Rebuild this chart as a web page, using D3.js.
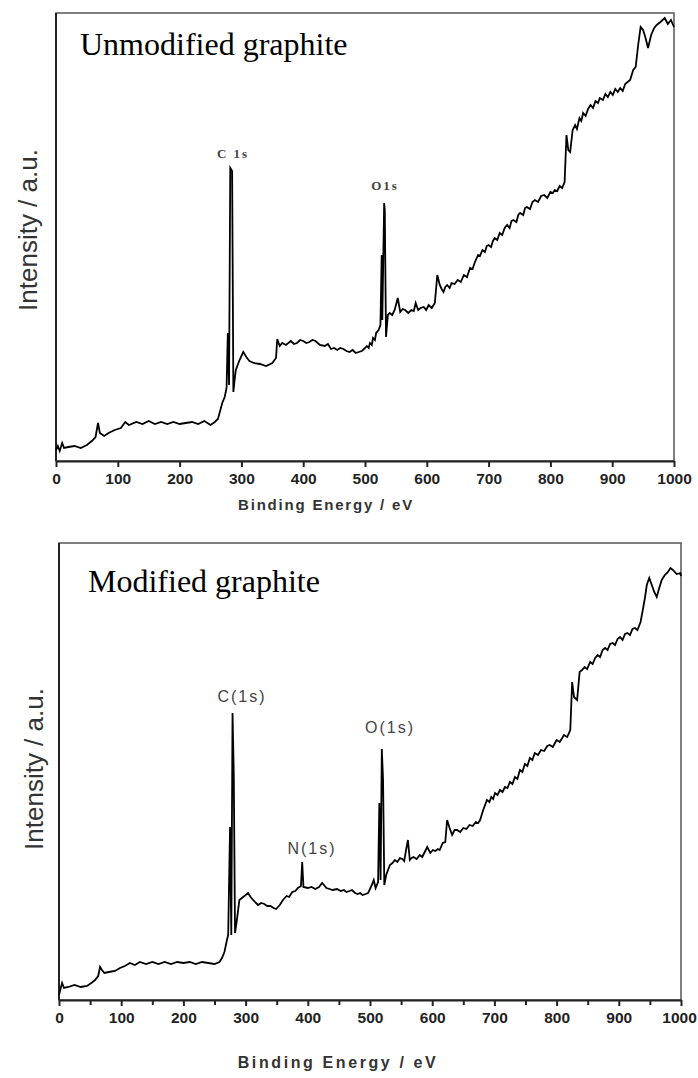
<!DOCTYPE html>
<html>
<head>
<meta charset="utf-8">
<script src="https://cdn.jsdelivr.net/npm/d3@7"></script>
<style>
  body { margin: 0; background: #fff; }
  svg { display: block; }
</style>
</head>
<body>
<div id="chart"></div>
<script>
// XPS survey spectra: [binding energy (eV), intensity (a.u.)]
const unmodifiedSpectrum = [
  [0, 11], [3, 15], [6, 10], [10, 18], [13, 13], [20, 14], [30, 15], [40, 13], [50, 16],
  [58, 20], [64, 24], [68, 38], [71, 28], [78, 25], [85, 28], [95, 31], [105, 33], [112, 39],
  [118, 36], [130, 39], [140, 37], [150, 40], [160, 37], [170, 39], [180, 37], [190, 39],
  [200, 37], [210, 38], [220, 39], [230, 37], [240, 40], [250, 36], [257, 39], [262, 42],
  [266, 51], [269, 58], [273, 64], [276, 73], [278, 128], [280, 76], [282, 293], [285, 290],
  [287, 69], [289, 81], [291, 91], [297, 101], [303, 109], [308, 104], [313, 100], [320, 98],
  [330, 97], [340, 95], [350, 98], [356, 103], [358, 122], [362, 115], [366, 118], [372, 116],
  [380, 120], [385, 117], [390, 118], [395, 121], [400, 120], [405, 118], [410, 119], [415, 121],
  [420, 120], [427, 116], [435, 115], [440, 117], [445, 112], [450, 113], [455, 111], [460, 113],
  [465, 112], [470, 110], [475, 109], [480, 111], [485, 108], [490, 109], [495, 110], [500, 113],
  [503, 115], [506, 113], [508, 118], [511, 116], [513, 123], [516, 121], [518, 128], [522, 131],
  [525, 136], [527, 206], [528, 141], [531, 258], [532, 251], [534, 124], [537, 146], [540, 148],
  [544, 146], [548, 151], [553, 163], [557, 149], [561, 152], [565, 151], [570, 148], [575, 151],
  [579, 150], [582, 158], [586, 151], [590, 153], [595, 154], [599, 151], [603, 156], [608, 153],
  [613, 158], [617, 186], [621, 176], [624, 172], [627, 169], [630, 174], [633, 176], [637, 173],
  [640, 178], [645, 177], [650, 181], [655, 179], [660, 186], [665, 184], [670, 193], [674, 192],
  [678, 199], [683, 206], [686, 205], [690, 211], [694, 209], [697, 215], [700, 216], [704, 214],
  [707, 220], [710, 223], [714, 221], [718, 228], [722, 226], [726, 233], [730, 236], [734, 233],
  [737, 240], [740, 241], [745, 239], [748, 246], [751, 248], [756, 246], [759, 253], [762, 254],
  [767, 252], [771, 259], [775, 261], [780, 259], [785, 265], [790, 266], [795, 263], [800, 269],
  [804, 268], [807, 271], [811, 270], [815, 275], [819, 273], [823, 279], [826, 326], [829, 311],
  [832, 309], [836, 331], [840, 336], [843, 332], [847, 343], [850, 340], [853, 348], [857, 345],
  [861, 352], [865, 356], [869, 353], [873, 360], [877, 358], [880, 363], [885, 361], [889, 367],
  [893, 364], [897, 369], [901, 366], [905, 372], [909, 369], [913, 373], [917, 370], [921, 377],
  [925, 379], [929, 381], [934, 391], [938, 394], [942, 416], [946, 434], [950, 431], [954, 423],
  [958, 413], [963, 426], [968, 433], [972, 436], [978, 439], [985, 443], [990, 437], [995, 441],
  [1000, 434]
];

const modifiedSpectrum = [
  [0, 5], [2, 10], [5, 17], [8, 12], [15, 13], [25, 15], [35, 13], [45, 14], [52, 17], [58, 20],
  [63, 24], [66, 33], [69, 30], [73, 27], [80, 28], [90, 29], [98, 32], [106, 34], [114, 37],
  [122, 35], [130, 38], [140, 36], [150, 38], [160, 36], [170, 38], [180, 36], [190, 38],
  [200, 37], [210, 38], [220, 36], [230, 38], [240, 37], [250, 36], [258, 38], [262, 42],
  [266, 48], [270, 60], [272, 65], [275, 173], [277, 65], [279, 287], [281, 225], [283, 67],
  [286, 80], [290, 100], [296, 103], [304, 107], [308, 103], [312, 100], [320, 95], [325, 97],
  [330, 96], [335, 94], [340, 94], [345, 92], [349, 91], [355, 95], [360, 100], [366, 104],
  [370, 103], [375, 108], [380, 109], [384, 112], [389, 114], [391, 138], [393, 113], [400, 112],
  [406, 113], [412, 111], [418, 113], [423, 117], [430, 112], [435, 111], [440, 110], [447, 111],
  [453, 109], [458, 110], [462, 108], [467, 109], [471, 110], [476, 107], [480, 106], [484, 107],
  [488, 105], [493, 106], [497, 107], [503, 115], [506, 120], [509, 112], [513, 118], [515, 197],
  [517, 120], [519, 251], [521, 220], [523, 115], [526, 125], [532, 135], [536, 137], [540, 140],
  [544, 138], [548, 142], [552, 141], [555, 139], [558, 150], [561, 160], [564, 140], [567, 142],
  [570, 143], [575, 141], [580, 145], [584, 143], [588, 148], [592, 153], [597, 147], [601, 150],
  [605, 149], [609, 151], [612, 150], [617, 157], [621, 158], [624, 180], [628, 172], [632, 165],
  [636, 170], [640, 170], [645, 168], [650, 172], [655, 171], [660, 175], [665, 174], [670, 178],
  [674, 177], [677, 180], [682, 190], [688, 200], [692, 198], [695, 203], [698, 201], [701, 207],
  [705, 205], [709, 210], [713, 208], [717, 213], [721, 212], [725, 218], [729, 216], [733, 223],
  [737, 221], [741, 230], [745, 228], [749, 236], [753, 234], [757, 242], [761, 240], [765, 247],
  [770, 245], [775, 250], [780, 249], [785, 254], [789, 255], [794, 253], [800, 260], [805, 258],
  [812, 265], [817, 263], [822, 270], [825, 318], [828, 303], [833, 300], [837, 328], [841, 330],
  [845, 333], [849, 331], [854, 338], [858, 336], [862, 342], [866, 345], [870, 343], [874, 350],
  [878, 352], [882, 350], [886, 356], [890, 357], [894, 355], [898, 361], [902, 363], [906, 360],
  [910, 366], [914, 367], [918, 365], [922, 371], [926, 372], [930, 370], [935, 378], [938, 388],
  [942, 402], [945, 415], [949, 422], [953, 415], [957, 408], [961, 403], [965, 412], [969, 420],
  [974, 425], [979, 428], [983, 432], [987, 430], [993, 426], [999, 427], [1000, 424]
];

const xTickValues = [0, 100, 200, 300, 400, 500, 600, 700, 800, 900, 1000];
const xMinorTickValues = [50, 150, 250, 350, 450, 550, 650, 750, 850, 950];

const unmodifiedPeaks = [
  { label: "C 1s", x: 233, y: 158 },
  { label: "O1s", x: 385, y: 190 }
];
const modifiedPeaks = [
  { label: "C(1s)", x: 242, y: 702 },
  { label: "N(1s)", x: 312, y: 854 },
  { label: "O(1s)", x: 390, y: 733 }
];

const width = 698;
const height = 1078;

const svg = d3.select("#chart")
  .append("svg")
  .attr("width", width)
  .attr("height", height);

// panel layout (pixel boxes of each plot frame)
const panels = [
  {
    data: unmodifiedSpectrum, left: 56, right: 674, top: 13, bottom: 461, yMax: 448,
    title: "Unmodified graphite", titleX: 80, titleY: 55,
    peaks: unmodifiedPeaks, peakFont: "bold 13px 'Liberation Serif', serif", peakSpacing: 2,
    minor: false, yLabelX: 37, yLabelY: 230, xLabelX: 326, xLabelY: 510, xLabelSize: 15,
    xLabelSpacing: 1.8, lastTickShift: 0
  },
  {
    data: modifiedSpectrum, left: 59, right: 681, top: 543, bottom: 1000, yMax: 457,
    title: "Modified graphite", titleX: 88, titleY: 592,
    peaks: modifiedPeaks, peakFont: "16px 'Liberation Sans', Arial, sans-serif", peakSpacing: 2,
    minor: true, yLabelX: 43, yLabelY: 769, xLabelX: 338, xLabelY: 1068, xLabelSize: 16,
    xLabelSpacing: 2.6, lastTickShift: -2
  }
];

panels.forEach(p => {
  const x = d3.scaleLinear().domain([0, 1000]).range([p.left, p.right]);
  const y = d3.scaleLinear().domain([0, p.yMax]).range([p.bottom, p.top]);

  const g = svg.append("g");

  // frame: top and right are lighter
  g.append("rect")
    .attr("x", p.left)
    .attr("y", p.top)
    .attr("width", p.right - p.left)
    .attr("height", p.bottom - p.top)
    .attr("fill", "none")
    .attr("stroke", "#555")
    .attr("stroke-width", 1.5);

  g.append("line")
    .attr("x1", p.left).attr("x2", p.left)
    .attr("y1", p.top).attr("y2", p.bottom)
    .attr("stroke", "#222").attr("stroke-width", 2);

  // spectrum
  const line = d3.line()
    .x(d => x(d[0]))
    .y(d => y(d[1]));

  g.append("path")
    .datum(p.data)
    .attr("d", line)
    .attr("fill", "none")
    .attr("stroke", "#000")
    .attr("stroke-width", 1.8)
    .attr("stroke-linejoin", "miter");

  // x axis
  if (p.minor) {
    g.append("g")
      .attr("transform", `translate(0,${p.bottom})`)
      .call(d3.axisBottom(x).tickValues(xMinorTickValues).tickSize(5).tickFormat(""))
      .call(a => a.select(".domain").remove())
      .call(a => a.selectAll("line").attr("stroke", "#222").attr("stroke-width", 2));
  }

  const axis = g.append("g")
    .attr("transform", `translate(0,${p.bottom})`)
    .call(d3.axisBottom(x).tickValues(xTickValues).tickSize(6).tickSizeOuter(0)
      .tickPadding(6).tickFormat(d3.format("d")));

  axis.select(".domain").attr("stroke", "#222").attr("stroke-width", 2);
  axis.selectAll(".tick line").attr("stroke", "#222").attr("stroke-width", 2);
  axis.selectAll(".tick text")
    .attr("fill", "#222")
    .attr("dx", d => d === 1000 ? p.lastTickShift : 0)
    .style("font", "bold 15.5px 'Liberation Sans', Arial, sans-serif");

  // x label
  g.append("text")
    .attr("x", p.xLabelX)
    .attr("y", p.xLabelY)
    .attr("text-anchor", "middle")
    .attr("fill", "#333")
    .style("font", `bold ${p.xLabelSize}px 'Liberation Sans', Arial, sans-serif`)
    .style("letter-spacing", `${p.xLabelSpacing}px`)
    .text("Binding Energy / eV");

  // y label
  g.append("text")
    .attr("transform", `translate(${p.yLabelX},${p.yLabelY}) rotate(-90)`)
    .attr("text-anchor", "middle")
    .attr("fill", "#333")
    .style("font", "26px 'Liberation Sans', Arial, sans-serif")
    .text("Intensity / a.u.");

  // panel title
  g.append("text")
    .attr("x", p.titleX)
    .attr("y", p.titleY)
    .attr("fill", "#000")
    .style("font", "32px 'Liberation Serif', 'Times New Roman', serif")
    .text(p.title);

  // peak labels
  g.selectAll(".peak")
    .data(p.peaks)
    .enter()
    .append("text")
    .attr("class", "peak")
    .attr("x", d => d.x)
    .attr("y", d => d.y)
    .attr("text-anchor", "middle")
    .attr("fill", "#444")
    .style("font", p.peakFont)
    .style("letter-spacing", `${p.peakSpacing}px`)
    .text(d => d.label);
});
</script>
</body>
</html>
